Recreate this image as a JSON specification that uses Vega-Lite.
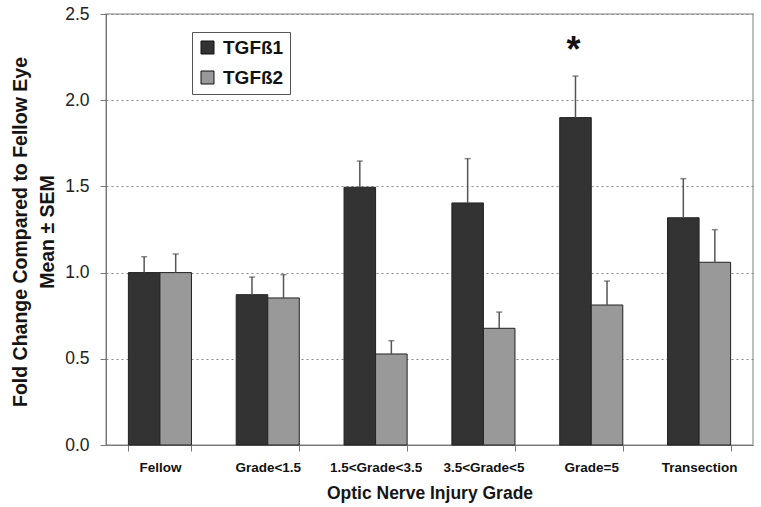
{
  "$schema": "https://vega.github.io/schema/vega-lite/v6.json",
  "width": 647,
  "height": 431,
  "autosize": "none",
  "padding": {"left": 106, "top": 14, "right": 8, "bottom": 62},
  "background": "white",
  "config": {
    "font": "Liberation Sans",
    "view": {"stroke": "#aaaaaa", "strokeWidth": 1.5},
    "legend": {
      "orient": "none",
      "legendX": 86,
      "legendY": 18,
      "strokeColor": "#555555",
      "fillColor": "white",
      "padding": 6,
      "symbolType": "square",
      "symbolSize": 169,
      "symbolStrokeColor": "#111111",
      "symbolStrokeWidth": 1,
      "labelFontSize": 19,
      "labelFontWeight": "bold",
      "labelColor": "#111111",
      "labelOffset": 6,
      "rowPadding": 10
    }
  },
  "data": {
    "values": [
      {"grade": "Fellow", "series": "TGFß1", "mean": 1.0, "top": 1.092},
      {"grade": "Fellow", "series": "TGFß2", "mean": 1.0, "top": 1.108},
      {"grade": "Grade<1.5", "series": "TGFß1", "mean": 0.872, "top": 0.974},
      {"grade": "Grade<1.5", "series": "TGFß2", "mean": 0.853, "top": 0.988},
      {"grade": "1.5<Grade<3.5", "series": "TGFß1", "mean": 1.495, "top": 1.647},
      {"grade": "1.5<Grade<3.5", "series": "TGFß2", "mean": 0.528, "top": 0.605},
      {"grade": "3.5<Grade<5", "series": "TGFß1", "mean": 1.404, "top": 1.661},
      {"grade": "3.5<Grade<5", "series": "TGFß2", "mean": 0.677, "top": 0.771},
      {"grade": "Grade=5", "series": "TGFß1", "mean": 1.899, "top": 2.140},
      {"grade": "Grade=5", "series": "TGFß2", "mean": 0.812, "top": 0.951},
      {"grade": "Transection", "series": "TGFß1", "mean": 1.318, "top": 1.545},
      {"grade": "Transection", "series": "TGFß2", "mean": 1.060, "top": 1.249}
    ]
  },
  "encoding": {
    "x": {
      "field": "grade",
      "type": "nominal",
      "sort": ["Fellow", "Grade<1.5", "1.5<Grade<3.5", "3.5<Grade<5", "Grade=5", "Transection"],
      "scale": {"paddingInner": 0.415, "paddingOuter": 0.2075},
      "axis": {
        "title": "Optic Nerve Injury Grade",
        "labelAngle": 0,
        "labelFontWeight": "bold",
        "labelFontSize": 13.5,
        "labelColor": "#111111",
        "labelPadding": 9,
        "tickBand": "extent",
        "tickSize": 6,
        "tickColor": "#777777",
        "domainColor": "#777777",
        "titleFontSize": 17.5,
        "titleFontWeight": "bold",
        "titleColor": "#151515",
        "titlePadding": 11
      }
    },
    "xOffset": {
      "field": "series",
      "type": "nominal",
      "sort": ["TGFß1", "TGFß2"],
      "scale": {"paddingInner": 0, "paddingOuter": 0}
    }
  },
  "layer": [
    {
      "mark": {"type": "bar", "stroke": "#222222", "strokeWidth": 1},
      "encoding": {
        "y": {
          "field": "mean",
          "type": "quantitative",
          "scale": {"domain": [0, 2.5], "nice": false},
          "axis": {
            "values": [0, 0.5, 1, 1.5, 2, 2.5],
            "format": ".1f",
            "labelFontSize": 17.5,
            "labelColor": "#222222",
            "labelPadding": 11,
            "tickSize": 6,
            "tickColor": "#777777",
            "domainColor": "#777777",
            "grid": true,
            "gridDash": [2, 3],
            "gridColor": "#888888",
            "title": ["Fold Change Compared to Fellow Eye", "Mean ± SEM"],
            "titleFontSize": 19.5,
            "titleFontWeight": "bold",
            "titleColor": "#151515",
            "titleLineHeight": 27,
            "titleAngle": 270,
            "titleAlign": "center",
            "titleBaseline": "alphabetic",
            "titleX": -80,
            "titleY": 217.5
          }
        },
        "color": {
          "field": "series",
          "type": "nominal",
          "scale": {"domain": ["TGFß1", "TGFß2"], "range": ["#333333", "#999999"]},
          "legend": {"title": null}
        }
      }
    },
    {
      "mark": {"type": "rule", "color": "#555555", "strokeWidth": 1.5},
      "encoding": {
        "y": {"field": "mean", "type": "quantitative", "title": ["Fold Change Compared to Fellow Eye", "Mean ± SEM"]},
        "y2": {"field": "top"}
      }
    },
    {
      "mark": {"type": "tick", "color": "#555555", "thickness": 1.5, "size": 6},
      "encoding": {
        "y": {"field": "top", "type": "quantitative", "title": ["Fold Change Compared to Fellow Eye", "Mean ± SEM"]}
      }
    },
    {
      "data": {"values": [{"grade": "Grade=5", "series": "TGFß1", "pos": 2.22, "label": "*"}]},
      "mark": {"type": "text", "fontSize": 36, "fontWeight": "bold", "color": "#111111", "baseline": "alphabetic", "dx": -2},
      "encoding": {
        "y": {"field": "pos", "type": "quantitative", "title": ["Fold Change Compared to Fellow Eye", "Mean ± SEM"]},
        "text": {"field": "label"}
      }
    }
  ]
}
